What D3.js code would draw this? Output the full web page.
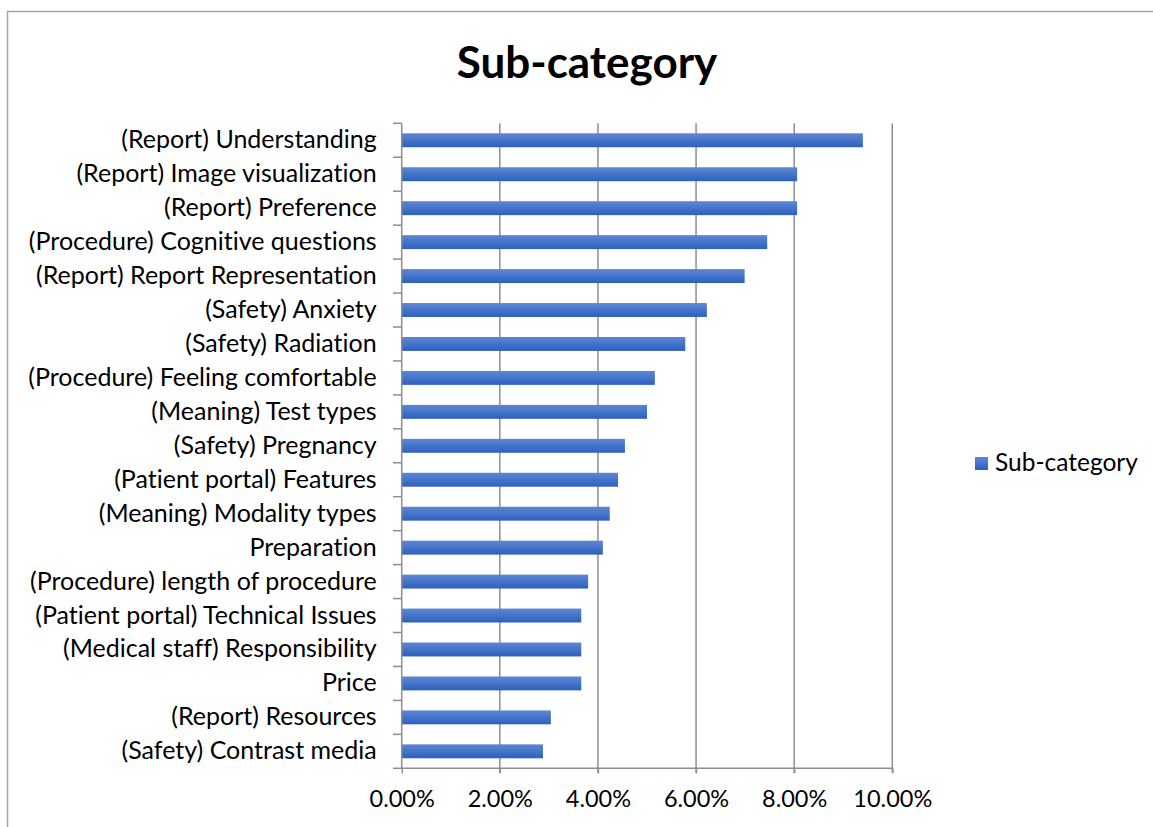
<!DOCTYPE html>
<html><head><meta charset="utf-8">
<script src="https://cdn.jsdelivr.net/npm/d3@7"></script>
<style>body{margin:0;background:#fff}svg{display:block}text{font-family:Lato,"Open Sans",sans-serif;fill:#000;font-variant-ligatures:none}</style>
</head><body><svg id="c" width="1153" height="827"></svg>
<script>
const categories = [
  "(Report) Understanding","(Report) Image visualization","(Report) Preference",
  "(Procedure) Cognitive questions","(Report) Report Representation","(Safety) Anxiety",
  "(Safety) Radiation","(Procedure) Feeling comfortable","(Meaning) Test types",
  "(Safety) Pregnancy","(Patient portal) Features","(Meaning) Modality types",
  "Preparation","(Procedure) length of procedure","(Patient portal) Technical Issues",
  "(Medical staff) Responsibility","Price","(Report) Resources","(Safety) Contrast media"];
const values = [0.0940,0.0806,0.0806,0.0745,0.0699,0.0622,0.0578,0.0516,0.0500,0.0455,0.0441,0.0424,0.0410,0.0380,0.0366,0.0366,0.0366,0.0304,0.0288];
const xTicks = [0,0.02,0.04,0.06,0.08,0.10];
const title = "Sub-category";
const seriesName = "Sub-category";

const svg = d3.select("#c");
const defs = svg.append("defs");
const g = defs.append("linearGradient").attr("id","bg").attr("x1",0).attr("y1",0).attr("x2",0).attr("y2",1);
g.append("stop").attr("offset","0%").attr("stop-color","#5d87d4");
g.append("stop").attr("offset","100%").attr("stop-color","#2d60be");

svg.append("path").attr("d","M7.5,827 V11.5 H1153").attr("fill","none").attr("stroke","#a6a6a6").attr("stroke-width",1.5);

const x = d3.scaleLinear().domain([0,0.10]).range([401.7,892.3]);
const y = d3.scaleBand().domain(categories).range([123.3,768.3]).paddingInner(0.59).paddingOuter(0.295);
const fmt = d => (d*100).toFixed(2)+"%";

svg.append("g").selectAll("line").data(xTicks.slice(1)).join("line")
  .attr("x1",d=>x(d)).attr("x2",d=>x(d)).attr("y1",123.3).attr("y2",773)
  .attr("stroke","#8e8e8e").attr("stroke-width",1.5);

svg.append("g").selectAll("rect").data(values).join("rect")
  .attr("x",x(0)).attr("y",(d,i)=>y(categories[i]))
  .attr("width",d=>x(d)-x(0)).attr("height",y.bandwidth())
  .attr("fill","url(#bg)");

const xa = svg.append("g").attr("transform","translate(0,768.3)")
  .call(d3.axisBottom(x).tickValues(xTicks).tickFormat(fmt).tickSize(5).tickPadding(17));
xa.select(".domain").attr("stroke","#8e8e8e").attr("stroke-width",1.5).attr("d",`M${x(0)},0H${x(0.10)}`);
xa.selectAll(".tick line").attr("stroke","#8e8e8e").attr("stroke-width",1.5);
xa.selectAll(".tick text").attr("font-size",23.5).attr("font-family","Lato");

const ya = svg.append("g").attr("transform",`translate(${x(0)},0)`)
  .call(d3.axisLeft(y).tickSize(0).tickPadding(25));
ya.select(".domain").attr("stroke","#8e8e8e").attr("stroke-width",1.5).attr("d","M0,123.3V768.3");
ya.selectAll(".tick text").attr("font-size",25).attr("font-family","Lato");
const step = y.step();
const bounds = d3.range(categories.length+1).map(i=>123.3+i*step);
svg.append("g").selectAll("line").data(bounds).join("line")
  .attr("x1",393).attr("x2",x(0)).attr("y1",d=>d).attr("y2",d=>d)
  .attr("stroke","#8e8e8e").attr("stroke-width",1.5);

svg.append("text").attr("x",587).attr("y",78).attr("text-anchor","middle")
  .attr("font-size",44).attr("font-weight","bold").text(title);

svg.append("rect").attr("x",975).attr("y",457).attr("width",13).attr("height",13).attr("fill","url(#bg)");
svg.append("text").attr("x",995).attr("y",471).attr("font-size",24.5).text(seriesName);
</script></body></html>
